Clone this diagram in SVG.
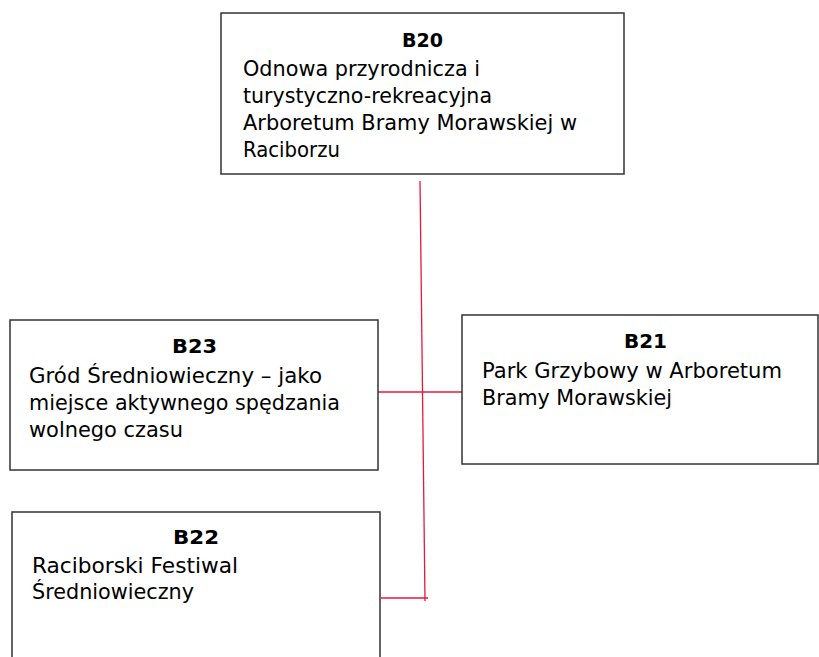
<svg xmlns="http://www.w3.org/2000/svg" width="819" height="657" viewBox="0 0 819 657">
<style>
.box{fill:#fff;stroke:#333;stroke-width:1.5}
.t{font-family:"DejaVu Sans",sans-serif;font-size:21px;fill:#000}
.h{font-family:"DejaVu Sans",sans-serif;font-size:20px;font-weight:bold;text-anchor:middle;fill:#000}
.c{stroke:#e8173f;stroke-width:1.3;fill:none}
</style>
<rect width="819" height="657" fill="#fff"/>
<g id="connectors">
<line class="c" x1="420" y1="181" x2="425" y2="601"/>
<line class="c" x1="378" y1="392" x2="462" y2="392"/>
<line class="c" x1="381" y1="598" x2="428" y2="598"/>
</g>
<g id="B20">
<rect class="box" x="221" y="13" width="403" height="161"/>
<text class="h" x="422.5" y="47" textLength="41" lengthAdjust="spacingAndGlyphs">B20</text>
<text class="t" x="243" y="76" textLength="237" lengthAdjust="spacingAndGlyphs">Odnowa przyrodnicza i</text>
<text class="t" x="243" y="103" textLength="249" lengthAdjust="spacingAndGlyphs">turystyczno-rekreacyjna</text>
<text class="t" x="243" y="130" textLength="334" lengthAdjust="spacingAndGlyphs">Arboretum Bramy Morawskiej w</text>
<text class="t" x="243" y="157" textLength="97" lengthAdjust="spacingAndGlyphs">Raciborzu</text>
</g>
<g id="B21">
<rect class="box" x="462" y="315" width="356" height="149"/>
<text class="h" x="645.5" y="348" textLength="43" lengthAdjust="spacingAndGlyphs">B21</text>
<text class="t" x="482" y="378" textLength="300" lengthAdjust="spacingAndGlyphs">Park Grzybowy w Arboretum</text>
<text class="t" x="482" y="405" textLength="190" lengthAdjust="spacingAndGlyphs">Bramy Morawskiej</text>
</g>
<g id="B23">
<rect class="box" x="10" y="320" width="368" height="150"/>
<text class="h" x="194.5" y="353" textLength="45" lengthAdjust="spacingAndGlyphs">B23</text>
<text class="t" x="29" y="383" textLength="293" lengthAdjust="spacingAndGlyphs">Gród Średniowieczny – jako</text>
<text class="t" x="29" y="410" textLength="311" lengthAdjust="spacingAndGlyphs">miejsce aktywnego spędzania</text>
<text class="t" x="29" y="437" textLength="154" lengthAdjust="spacingAndGlyphs">wolnego czasu</text>
</g>
<g id="B22">
<rect class="box" x="12" y="512" width="368" height="160"/>
<text class="h" x="196" y="544" textLength="46" lengthAdjust="spacingAndGlyphs">B22</text>
<text class="t" x="32" y="573" textLength="206" lengthAdjust="spacingAndGlyphs">Raciborski Festiwal</text>
<text class="t" x="32" y="599" textLength="162" lengthAdjust="spacingAndGlyphs">Średniowieczny</text>
</g>
</svg>
